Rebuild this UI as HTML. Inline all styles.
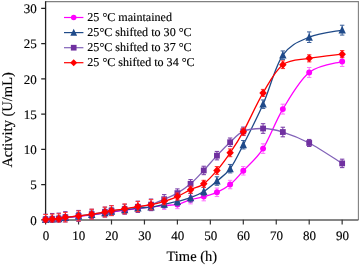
<!DOCTYPE html>
<html><head><meta charset="utf-8"><style>
html,body{margin:0;padding:0;background:#fff;width:360px;height:265px;overflow:hidden}
svg{display:block;filter:blur(0.42px)}
text{font-family:"Liberation Serif",serif;text-rendering:geometricPrecision}
</style></head><body>
<svg width="360" height="265" viewBox="0 0 360 265">
<rect width="360" height="265" fill="#fff"/>
<path d="M45.6,1.6H358.4V220" fill="none" stroke="#808080" stroke-width="1.1"/>
<path d="M45.6,220H358.4" fill="none" stroke="#5e5e5e" stroke-width="1.35"/>
<path d="M45.6,1.2V220.5" fill="none" stroke="#222" stroke-width="1.3"/>
<path d="M41.2,219.80H45.6M41.2,184.55H45.6M41.2,149.30H45.6M41.2,114.05H45.6M41.2,78.80H45.6M41.2,43.55H45.6M41.2,8.30H45.6" stroke="#222" stroke-width="1.2"/>
<path d="M45.60,219.8V224.5M78.55,219.8V224.5M111.50,219.8V224.5M144.45,219.8V224.5M177.40,219.8V224.5M210.35,219.8V224.5M243.30,219.8V224.5M276.25,219.8V224.5M309.20,219.8V224.5M342.15,219.8V224.5" stroke="#333" stroke-width="1.2"/>
<path d="M45.60,219.45 C46.70,219.41 49.99,219.32 52.19,219.24 C54.39,219.15 56.58,219.21 58.78,218.95 C60.98,218.70 62.08,218.13 65.37,217.69 C68.67,217.24 74.16,216.75 78.55,216.28 C82.94,215.81 87.34,215.39 91.73,214.87 C96.12,214.34 101.61,213.57 104.91,213.10 C108.20,212.63 108.20,212.52 111.50,212.05 C114.80,211.58 120.29,210.87 124.68,210.28 C129.07,209.69 133.47,209.05 137.86,208.52 C142.25,207.99 146.65,207.60 151.04,207.11 C155.43,206.62 159.83,206.01 164.22,205.56 C168.61,205.11 173.01,205.42 177.40,204.43 C181.79,203.44 186.19,200.94 190.58,199.64 C194.97,198.33 199.37,197.83 203.76,196.61 C208.15,195.38 212.55,194.31 216.94,192.31 C221.33,190.30 225.73,188.13 230.12,184.55 C234.51,180.97 237.81,176.80 243.30,170.80 C248.79,164.81 256.48,158.88 263.07,148.60 C269.66,138.31 275.15,121.81 282.84,109.12 C290.53,96.43 299.32,80.39 309.20,72.46 C319.09,64.52 336.66,63.35 342.15,61.53" fill="none" stroke="#ff00ff" stroke-width="1.3"/>
<path d="M45.60,216.63V221.92M43.40,216.63H47.80M43.40,221.92H47.80M52.19,216.42V221.92M49.99,216.42H54.39M49.99,221.92H54.39M58.78,216.13V221.77M56.58,216.13H60.98M56.58,221.77H60.98M65.37,214.87V220.51M63.17,214.87H67.57M63.17,220.51H67.57M78.55,212.75V219.80M76.35,212.75H80.75M76.35,219.80H80.75M91.73,211.34V218.39M89.53,211.34H93.93M89.53,218.39H93.93M104.91,209.58V216.63M102.71,209.58H107.11M102.71,216.63H107.11M111.50,208.52V215.57M109.30,208.52H113.70M109.30,215.57H113.70M124.68,206.76V213.81M122.48,206.76H126.88M122.48,213.81H126.88M137.86,205.00V212.05M135.66,205.00H140.06M135.66,212.05H140.06M151.04,203.59V210.64M148.84,203.59H153.24M148.84,210.64H153.24M164.22,201.68V209.44M162.02,201.68H166.42M162.02,209.44H166.42M177.40,200.20V208.66M175.20,200.20H179.60M175.20,208.66H179.60M190.58,195.41V203.87M188.38,195.41H192.78M188.38,203.87H192.78M203.76,192.38V200.84M201.56,192.38H205.96M201.56,200.84H205.96M216.94,188.08V196.54M214.74,188.08H219.14M214.74,196.54H219.14M230.12,180.32V188.78M227.92,180.32H232.32M227.92,188.78H232.32M243.30,166.57V175.03M241.10,166.57H245.50M241.10,175.03H245.50M263.07,143.80V153.39M260.87,143.80H265.27M260.87,153.39H265.27M282.84,104.18V114.05M280.64,104.18H285.04M280.64,114.05H285.04M309.20,67.52V77.39M307.00,67.52H311.40M307.00,77.39H311.40M342.15,56.59V66.46M339.95,56.59H344.35M339.95,66.46H344.35" fill="none" stroke="#ff70ff" stroke-width="1"/>
<circle cx="45.60" cy="219.45" r="2.95" fill="#ff00ff"/>
<circle cx="52.19" cy="219.24" r="2.95" fill="#ff00ff"/>
<circle cx="58.78" cy="218.95" r="2.95" fill="#ff00ff"/>
<circle cx="65.37" cy="217.69" r="2.95" fill="#ff00ff"/>
<circle cx="78.55" cy="216.28" r="2.95" fill="#ff00ff"/>
<circle cx="91.73" cy="214.87" r="2.95" fill="#ff00ff"/>
<circle cx="104.91" cy="213.10" r="2.95" fill="#ff00ff"/>
<circle cx="111.50" cy="212.05" r="2.95" fill="#ff00ff"/>
<circle cx="124.68" cy="210.28" r="2.95" fill="#ff00ff"/>
<circle cx="137.86" cy="208.52" r="2.95" fill="#ff00ff"/>
<circle cx="151.04" cy="207.11" r="2.95" fill="#ff00ff"/>
<circle cx="164.22" cy="205.56" r="2.95" fill="#ff00ff"/>
<circle cx="177.40" cy="204.43" r="2.95" fill="#ff00ff"/>
<circle cx="190.58" cy="199.64" r="2.95" fill="#ff00ff"/>
<circle cx="203.76" cy="196.61" r="2.95" fill="#ff00ff"/>
<circle cx="216.94" cy="192.31" r="2.95" fill="#ff00ff"/>
<circle cx="230.12" cy="184.55" r="2.95" fill="#ff00ff"/>
<circle cx="243.30" cy="170.80" r="2.95" fill="#ff00ff"/>
<circle cx="263.07" cy="148.60" r="2.95" fill="#ff00ff"/>
<circle cx="282.84" cy="109.12" r="2.95" fill="#ff00ff"/>
<circle cx="309.20" cy="72.46" r="2.95" fill="#ff00ff"/>
<circle cx="342.15" cy="61.53" r="2.95" fill="#ff00ff"/>
<path d="M45.60,219.45 C46.70,219.39 49.99,219.21 52.19,219.09 C54.39,218.98 56.58,219.00 58.78,218.74 C60.98,218.48 62.08,217.98 65.37,217.54 C68.67,217.11 74.16,216.64 78.55,216.13 C82.94,215.63 87.34,215.08 91.73,214.51 C96.12,213.95 101.61,213.28 104.91,212.75 C108.20,212.22 108.20,211.81 111.50,211.34 C114.80,210.87 120.29,210.46 124.68,209.93 C129.07,209.40 133.47,208.64 137.86,208.17 C142.25,207.70 146.65,207.76 151.04,207.11 C155.43,206.46 159.83,205.23 164.22,204.29 C168.61,203.35 173.01,202.56 177.40,201.47 C181.79,200.38 186.19,199.39 190.58,197.73 C194.97,196.08 199.37,194.31 203.76,191.53 C208.15,188.74 212.55,184.83 216.94,181.03 C221.33,177.22 225.73,174.74 230.12,168.69 C234.51,162.64 237.81,155.47 243.30,144.72 C248.79,133.97 256.48,119.10 263.07,104.18 C269.66,89.26 275.15,66.34 282.84,55.18 C290.53,44.02 299.32,41.38 309.20,37.21 C319.09,33.03 336.66,31.33 342.15,30.16" fill="none" stroke="#1f4a88" stroke-width="1.3"/>
<path d="M45.60,216.63V221.92M43.40,216.63H47.80M43.40,221.92H47.80M52.19,216.28V221.92M49.99,216.28H54.39M49.99,221.92H54.39M58.78,215.92V221.56M56.58,215.92H60.98M56.58,221.56H60.98M65.37,214.72V220.36M63.17,214.72H67.57M63.17,220.36H67.57M78.55,212.61V219.66M76.35,212.61H80.75M76.35,219.66H80.75M91.73,210.99V218.04M89.53,210.99H93.93M89.53,218.04H93.93M104.91,209.23V216.28M102.71,209.23H107.11M102.71,216.28H107.11M111.50,207.81V214.87M109.30,207.81H113.70M109.30,214.87H113.70M124.68,206.41V213.46M122.48,206.41H126.88M122.48,213.46H126.88M137.86,204.64V211.69M135.66,204.64H140.06M135.66,211.69H140.06M151.04,203.59V210.64M148.84,203.59H153.24M148.84,210.64H153.24M164.22,200.77V207.81M162.02,200.77H166.42M162.02,207.81H166.42M177.40,197.24V205.70M175.20,197.24H179.60M175.20,205.70H179.60M190.58,193.50V201.96M188.38,193.50H192.78M188.38,201.96H192.78M203.76,187.30V195.76M201.56,187.30H205.96M201.56,195.76H205.96M216.94,176.80V185.25M214.74,176.80H219.14M214.74,185.25H219.14M230.12,164.46V172.92M227.92,164.46H232.32M227.92,172.92H232.32M243.30,140.49V148.95M241.10,140.49H245.50M241.10,148.95H245.50M263.07,99.95V108.41M260.87,99.95H265.27M260.87,108.41H265.27M282.84,50.95V59.41M280.64,50.95H285.04M280.64,59.41H285.04M309.20,31.92V42.49M307.00,31.92H311.40M307.00,42.49H311.40M342.15,25.22V35.09M339.95,25.22H344.35M339.95,35.09H344.35" fill="none" stroke="#3a5f9a" stroke-width="1"/>
<path d="M45.60,215.15L49.30,222.89L41.90,222.89Z" fill="#1f4a8a"/>
<path d="M52.19,214.79L55.89,222.53L48.49,222.53Z" fill="#1f4a8a"/>
<path d="M58.78,214.44L62.48,222.18L55.08,222.18Z" fill="#1f4a8a"/>
<path d="M65.37,213.24L69.07,220.98L61.67,220.98Z" fill="#1f4a8a"/>
<path d="M78.55,211.83L82.25,219.57L74.85,219.57Z" fill="#1f4a8a"/>
<path d="M91.73,210.21L95.43,217.95L88.03,217.95Z" fill="#1f4a8a"/>
<path d="M104.91,208.45L108.61,216.19L101.21,216.19Z" fill="#1f4a8a"/>
<path d="M111.50,207.04L115.20,214.78L107.80,214.78Z" fill="#1f4a8a"/>
<path d="M124.68,205.63L128.38,213.37L120.98,213.37Z" fill="#1f4a8a"/>
<path d="M137.86,203.87L141.56,211.61L134.16,211.61Z" fill="#1f4a8a"/>
<path d="M151.04,202.81L154.74,210.55L147.34,210.55Z" fill="#1f4a8a"/>
<path d="M164.22,199.99L167.92,207.73L160.52,207.73Z" fill="#1f4a8a"/>
<path d="M177.40,197.17L181.10,204.91L173.70,204.91Z" fill="#1f4a8a"/>
<path d="M190.58,193.43L194.28,201.17L186.88,201.17Z" fill="#1f4a8a"/>
<path d="M203.76,187.23L207.46,194.97L200.06,194.97Z" fill="#1f4a8a"/>
<path d="M216.94,176.72L220.64,184.47L213.24,184.47Z" fill="#1f4a8a"/>
<path d="M230.12,164.39L233.82,172.13L226.42,172.13Z" fill="#1f4a8a"/>
<path d="M243.30,140.42L247.00,148.16L239.60,148.16Z" fill="#1f4a8a"/>
<path d="M263.07,99.88L266.77,107.62L259.37,107.62Z" fill="#1f4a8a"/>
<path d="M282.84,50.88L286.54,58.62L279.14,58.62Z" fill="#1f4a8a"/>
<path d="M309.20,32.91L312.90,40.65L305.50,40.65Z" fill="#1f4a8a"/>
<path d="M342.15,25.86L345.85,33.60L338.45,33.60Z" fill="#1f4a8a"/>
<path d="M45.60,219.45 C46.70,219.39 49.99,219.21 52.19,219.09 C54.39,218.98 56.58,219.04 58.78,218.74 C60.98,218.45 62.08,217.80 65.37,217.33 C68.67,216.86 74.16,216.45 78.55,215.92 C82.94,215.39 87.34,214.81 91.73,214.16 C96.12,213.51 101.61,212.63 104.91,212.05 C108.20,211.46 108.20,211.11 111.50,210.64 C114.80,210.17 120.29,209.87 124.68,209.23 C129.07,208.58 133.47,207.52 137.86,206.76 C142.25,205.99 146.65,205.90 151.04,204.64 C155.43,203.39 159.83,201.13 164.22,199.21 C168.61,197.30 173.01,195.71 177.40,193.15 C181.79,190.59 186.19,187.63 190.58,183.85 C194.97,180.06 199.37,175.15 203.76,170.45 C208.15,165.75 212.55,160.35 216.94,155.65 C221.33,150.94 225.73,146.30 230.12,142.25 C234.51,138.20 237.81,133.61 243.30,131.32 C248.79,129.03 256.48,128.38 263.07,128.50 C269.66,128.62 275.15,129.62 282.84,132.03 C290.53,134.44 299.32,137.73 309.20,142.96 C319.09,148.18 336.66,159.99 342.15,163.40" fill="none" stroke="#8262b8" stroke-width="1.3"/>
<path d="M45.60,214.16V221.92M43.40,214.16H47.80M43.40,221.92H47.80M52.19,213.46V221.92M49.99,213.46H54.39M49.99,221.92H54.39M58.78,213.10V221.92M56.58,213.10H60.98M56.58,221.92H60.98M65.37,211.69V221.92M63.17,211.69H67.57M63.17,221.92H67.57M78.55,210.42V221.42M76.35,210.42H80.75M76.35,221.42H80.75M91.73,209.23V219.09M89.53,209.23H93.93M89.53,219.09H93.93M104.91,207.11V216.98M102.71,207.11H107.11M102.71,216.98H107.11M111.50,205.70V215.57M109.30,205.70H113.70M109.30,215.57H113.70M124.68,204.29V214.16M122.48,204.29H126.88M122.48,214.16H126.88M137.86,201.12V212.40M135.66,201.12H140.06M135.66,212.40H140.06M151.04,199.00V210.28M148.84,199.00H153.24M148.84,210.28H153.24M164.22,194.63V203.80M162.02,194.63H166.42M162.02,203.80H166.42M177.40,188.92V197.38M175.20,188.92H179.60M175.20,197.38H179.60M190.58,179.62V188.08M188.38,179.62H192.78M188.38,188.08H192.78M203.76,166.22V174.68M201.56,166.22H205.96M201.56,174.68H205.96M216.94,151.42V159.88M214.74,151.42H219.14M214.74,159.88H219.14M230.12,138.02V146.48M227.92,138.02H232.32M227.92,146.48H232.32M243.30,127.09V135.55M241.10,127.09H245.50M241.10,135.55H245.50M263.07,123.71V133.30M260.87,123.71H265.27M260.87,133.30H265.27M282.84,127.23V136.82M280.64,127.23H285.04M280.64,136.82H285.04M309.20,139.43V146.48M307.00,139.43H311.40M307.00,146.48H311.40M342.15,159.17V167.63M339.95,159.17H344.35M339.95,167.63H344.35" fill="none" stroke="#7434a4" stroke-width="1"/>
<rect x="42.70" y="216.55" width="5.80" height="5.80" fill="#7030a0"/>
<rect x="49.29" y="216.19" width="5.80" height="5.80" fill="#7030a0"/>
<rect x="55.88" y="215.84" width="5.80" height="5.80" fill="#7030a0"/>
<rect x="62.47" y="214.43" width="5.80" height="5.80" fill="#7030a0"/>
<rect x="75.65" y="213.02" width="5.80" height="5.80" fill="#7030a0"/>
<rect x="88.83" y="211.26" width="5.80" height="5.80" fill="#7030a0"/>
<rect x="102.01" y="209.15" width="5.80" height="5.80" fill="#7030a0"/>
<rect x="108.60" y="207.74" width="5.80" height="5.80" fill="#7030a0"/>
<rect x="121.78" y="206.33" width="5.80" height="5.80" fill="#7030a0"/>
<rect x="134.96" y="203.86" width="5.80" height="5.80" fill="#7030a0"/>
<rect x="148.14" y="201.74" width="5.80" height="5.80" fill="#7030a0"/>
<rect x="161.32" y="196.31" width="5.80" height="5.80" fill="#7030a0"/>
<rect x="174.50" y="190.25" width="5.80" height="5.80" fill="#7030a0"/>
<rect x="187.68" y="180.95" width="5.80" height="5.80" fill="#7030a0"/>
<rect x="200.86" y="167.55" width="5.80" height="5.80" fill="#7030a0"/>
<rect x="214.04" y="152.75" width="5.80" height="5.80" fill="#7030a0"/>
<rect x="227.22" y="139.35" width="5.80" height="5.80" fill="#7030a0"/>
<rect x="240.40" y="128.42" width="5.80" height="5.80" fill="#7030a0"/>
<rect x="260.17" y="125.60" width="5.80" height="5.80" fill="#7030a0"/>
<rect x="279.94" y="129.13" width="5.80" height="5.80" fill="#7030a0"/>
<rect x="306.30" y="140.06" width="5.80" height="5.80" fill="#7030a0"/>
<rect x="339.25" y="160.50" width="5.80" height="5.80" fill="#7030a0"/>
<path d="M45.60,219.45 C46.70,219.39 49.99,219.21 52.19,219.09 C54.39,218.98 56.58,219.04 58.78,218.74 C60.98,218.45 62.08,217.80 65.37,217.33 C68.67,216.86 74.16,216.45 78.55,215.92 C82.94,215.39 87.34,214.81 91.73,214.16 C96.12,213.51 101.61,212.63 104.91,212.05 C108.20,211.46 108.20,211.16 111.50,210.64 C114.80,210.11 120.29,209.55 124.68,208.87 C129.07,208.19 133.47,207.24 137.86,206.55 C142.25,205.85 146.65,205.59 151.04,204.71 C155.43,203.83 159.83,202.62 164.22,201.26 C168.61,199.90 173.01,198.47 177.40,196.54 C181.79,194.60 186.19,191.74 190.58,189.63 C194.97,187.51 199.37,187.04 203.76,183.85 C208.15,180.65 212.55,175.62 216.94,170.45 C221.33,165.28 225.73,159.29 230.12,152.83 C234.51,146.36 237.81,141.66 243.30,131.68 C248.79,121.69 256.48,104.06 263.07,92.90 C269.66,81.74 275.15,70.46 282.84,64.70 C290.53,58.94 299.32,60.12 309.20,58.36 C319.09,56.59 336.66,54.83 342.15,54.13" fill="none" stroke="#ff0000" stroke-width="1.3"/>
<path d="M45.60,214.51V221.92M43.40,214.51H47.80M43.40,221.92H47.80M52.19,214.16V221.92M49.99,214.16H54.39M49.99,221.92H54.39M58.78,213.81V221.92M56.58,213.81H60.98M56.58,221.92H60.98M65.37,212.40V221.92M63.17,212.40H67.57M63.17,221.92H67.57M78.55,210.99V220.86M76.35,210.99H80.75M76.35,220.86H80.75M91.73,209.23V219.09M89.53,209.23H93.93M89.53,219.09H93.93M104.91,207.11V216.98M102.71,207.11H107.11M102.71,216.98H107.11M111.50,205.70V215.57M109.30,205.70H113.70M109.30,215.57H113.70M124.68,203.94V213.81M122.48,203.94H126.88M122.48,213.81H126.88M137.86,201.47V211.62M135.66,201.47H140.06M135.66,211.62H140.06M151.04,199.64V209.79M148.84,199.64H153.24M148.84,209.79H153.24M164.22,197.73V204.78M162.02,197.73H166.42M162.02,204.78H166.42M177.40,193.01V200.06M175.20,193.01H179.60M175.20,200.06H179.60M190.58,186.10V193.15M188.38,186.10H192.78M188.38,193.15H192.78M203.76,180.32V187.37M201.56,180.32H205.96M201.56,187.37H205.96M216.94,166.57V174.33M214.74,166.57H219.14M214.74,174.33H219.14M230.12,148.95V156.70M227.92,148.95H232.32M227.92,156.70H232.32M243.30,128.15V135.20M241.10,128.15H245.50M241.10,135.20H245.50M263.07,89.38V96.43M260.87,89.38H265.27M260.87,96.43H265.27M282.84,60.82V68.58M280.64,60.82H285.04M280.64,68.58H285.04M309.20,54.83V61.88M307.00,54.83H311.40M307.00,61.88H311.40M342.15,50.60V57.65M339.95,50.60H344.35M339.95,57.65H344.35" fill="none" stroke="#ff3030" stroke-width="1"/>
<path d="M45.60,215.45L49.35,219.45L45.60,223.45L41.85,219.45Z" fill="#ff0000"/>
<path d="M52.19,215.09L55.94,219.09L52.19,223.09L48.44,219.09Z" fill="#ff0000"/>
<path d="M58.78,214.74L62.53,218.74L58.78,222.74L55.03,218.74Z" fill="#ff0000"/>
<path d="M65.37,213.33L69.12,217.33L65.37,221.33L61.62,217.33Z" fill="#ff0000"/>
<path d="M78.55,211.92L82.30,215.92L78.55,219.92L74.80,215.92Z" fill="#ff0000"/>
<path d="M91.73,210.16L95.48,214.16L91.73,218.16L87.98,214.16Z" fill="#ff0000"/>
<path d="M104.91,208.05L108.66,212.05L104.91,216.05L101.16,212.05Z" fill="#ff0000"/>
<path d="M111.50,206.64L115.25,210.64L111.50,214.64L107.75,210.64Z" fill="#ff0000"/>
<path d="M124.68,204.87L128.43,208.87L124.68,212.87L120.93,208.87Z" fill="#ff0000"/>
<path d="M137.86,202.55L141.61,206.55L137.86,210.55L134.11,206.55Z" fill="#ff0000"/>
<path d="M151.04,200.71L154.79,204.71L151.04,208.71L147.29,204.71Z" fill="#ff0000"/>
<path d="M164.22,197.26L167.97,201.26L164.22,205.26L160.47,201.26Z" fill="#ff0000"/>
<path d="M177.40,192.54L181.15,196.54L177.40,200.54L173.65,196.54Z" fill="#ff0000"/>
<path d="M190.58,185.63L194.33,189.63L190.58,193.63L186.83,189.63Z" fill="#ff0000"/>
<path d="M203.76,179.85L207.51,183.85L203.76,187.85L200.01,183.85Z" fill="#ff0000"/>
<path d="M216.94,166.45L220.69,170.45L216.94,174.45L213.19,170.45Z" fill="#ff0000"/>
<path d="M230.12,148.83L233.87,152.83L230.12,156.83L226.37,152.83Z" fill="#ff0000"/>
<path d="M243.30,127.68L247.05,131.68L243.30,135.68L239.55,131.68Z" fill="#ff0000"/>
<path d="M263.07,88.90L266.82,92.90L263.07,96.90L259.32,92.90Z" fill="#ff0000"/>
<path d="M282.84,60.70L286.59,64.70L282.84,68.70L279.09,64.70Z" fill="#ff0000"/>
<path d="M309.20,54.36L312.95,58.36L309.20,62.36L305.45,58.36Z" fill="#ff0000"/>
<path d="M342.15,50.13L345.90,54.13L342.15,58.13L338.40,54.13Z" fill="#ff0000"/>
<path d="M64,17.5H83.4" stroke="#ff00ff" stroke-width="1.2"/>
<circle cx="73.70" cy="17.50" r="2.75" fill="#ff00ff"/>
<path d="M64,32.6H83.4" stroke="#1f4a88" stroke-width="1.2"/>
<path d="M73.70,28.70L77.10,35.72L70.30,35.72Z" fill="#1f4a8a"/>
<path d="M64,47.7H83.4" stroke="#8262b8" stroke-width="1.2"/>
<rect x="70.85" y="44.85" width="5.70" height="5.70" fill="#7030a0"/>
<path d="M64,62.7H83.4" stroke="#ff0000" stroke-width="1.2"/>
<path d="M73.70,59.15L77.20,62.70L73.70,66.25L70.20,62.70Z" fill="#ff0000"/>
<g fill="#000" stroke="#000" stroke-width="0.15"><text transform="translate(36.80,224.60)" font-size="13" text-anchor="end">0</text><text transform="translate(36.80,189.35)" font-size="13" text-anchor="end">5</text><text transform="translate(36.80,154.10)" font-size="13" text-anchor="end">10</text><text transform="translate(36.80,118.85)" font-size="13" text-anchor="end">15</text><text transform="translate(36.80,83.60)" font-size="13" text-anchor="end">20</text><text transform="translate(36.80,48.35)" font-size="13" text-anchor="end">25</text><text transform="translate(36.80,13.10)" font-size="13" text-anchor="end">30</text><text transform="translate(45.90,239.80)" font-size="13" text-anchor="middle">0</text><text transform="translate(78.85,239.80)" font-size="13" text-anchor="middle">10</text><text transform="translate(111.80,239.80)" font-size="13" text-anchor="middle">20</text><text transform="translate(144.75,239.80)" font-size="13" text-anchor="middle">30</text><text transform="translate(177.70,239.80)" font-size="13" text-anchor="middle">40</text><text transform="translate(210.65,239.80)" font-size="13" text-anchor="middle">50</text><text transform="translate(243.60,239.80)" font-size="13" text-anchor="middle">60</text><text transform="translate(276.55,239.80)" font-size="13" text-anchor="middle">70</text><text transform="translate(309.50,239.80)" font-size="13" text-anchor="middle">80</text><text transform="translate(342.45,239.80)" font-size="13" text-anchor="middle">90</text><text transform="translate(191.80,261.00)" font-size="14.5" text-anchor="middle">Time (h)</text><text transform="translate(12.00,119.90) rotate(-90)" font-size="14.5" text-anchor="middle">Activity (U/mL)</text><text transform="translate(87.30,20.95)" font-size="12.08">25 °C maintained</text><text transform="translate(87.30,36.05)" font-size="12.08">25°C shifted to 30 °C</text><text transform="translate(87.30,51.15)" font-size="12.08">25°C shifted to 37 °C</text><text transform="translate(87.30,66.15)" font-size="12.08">25 °C shifted to 34 °C</text></g>
</svg></body></html>
